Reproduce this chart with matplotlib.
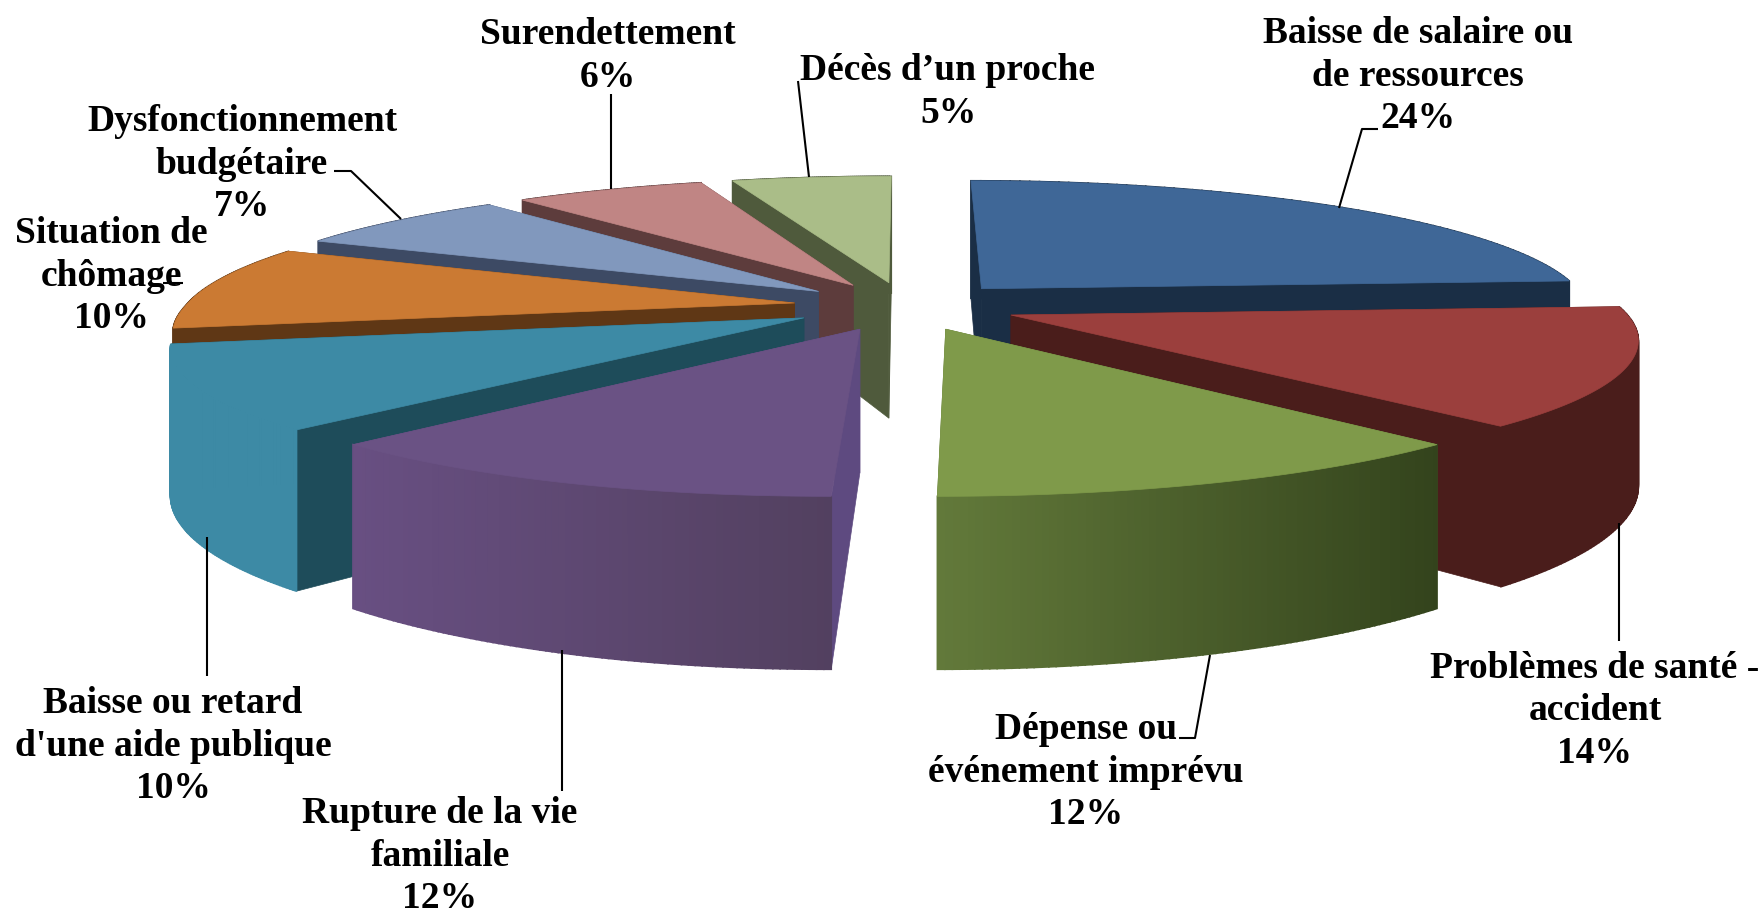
import numpy as np
import matplotlib
matplotlib.use("Agg")
import matplotlib.pyplot as plt
from matplotlib.colors import to_rgb
from matplotlib.patches import Polygon

# slices, clockwise from 12 o'clock
names = ["Baisse de salaire ou\nde ressources", "Problèmes de santé -\naccident",
         "Dépense ou\névénement imprévu", "Rupture de la vie\nfamiliale",
         "Baisse ou retard\nd'une aide publique", "Situation de\nchômage",
         "Dysfonctionnement\nbudgétaire", "Surendettement", "Décès d’un proche"]
values = [24, 14, 12, 12, 10, 10, 7, 6, 5]

# top face, cut face, wall at left of the screen, wall at right of the screen
top_colors = ["#3F6797", "#9B3F3D", "#7F9A4A", "#6A5284", "#3D8AA5", "#CB7A33", "#8198BD", "#C08584", "#AABD88"]
cut_colors = ["#1A2E45", "#4A1D1B", "#5F7537", "#5E4A80", "#1E4C5A", "#5F3715", "#3D4A64", "#5D3C3C", "#4F5A3C"]
wall_left = ["#1A2E45", "#4A1D1B", "#62793A", "#684F82", "#3D8AA5", "#5F3715", "#3D4A64", "#5D3C3C", "#4F5A3C"]
wall_right = ["#1A2E45", "#4A1D1B", "#33431C", "#52405F", "#3D8AA5", "#5F3715", "#3D4A64", "#5D3C3C", "#4F5A3C"]

# label centres and leader lines, in pixels
label_pos = [(1418, 76), (1595, 711), (1086, 772), (440, 856), (173, 746), (111, 276), (242, 164), (608, 56), (948, 92)]
leaders = [[(1339, 208), (1362, 129), (1378, 129)],
           [(1619, 523), (1619, 641)],
           [(1210, 655), (1195, 738), (1179, 738)],
           [(562, 650), (562, 791)],
           [(207, 537), (207, 676)],
           [(183, 283), (163, 283)],
           [(401, 219), (351, 171), (334, 171)],
           [(611, 189), (611, 94)],
           [(809, 177), (798, 81)]]

# projection of the pie plane onto the image
CX, CY = 906, 306
SCALE_X, SCALE_Y = 609, 131
PERSP = 0.165
HEIGHT = 139.5
EXPLODE = 0.185


def project(u, v):
	s = 1 / (1 + PERSP * v)
	# camera sits a bit right of the centre, the near edge drifts left
	drift = np.minimum(v, 0) * (12 - 5 * u + 8 * np.exp(-((u + 0.15) / 0.35) ** 2))
	return CX + SCALE_X * u * s + drift, CY - SCALE_Y * v * s, HEIGHT * s


def slicePoints(start, end):
	# apex and outer arc of an exploded slice, angles in radians clockwise from the top
	mid = (start + end) / 2
	du, dv = EXPLODE * np.sin(mid), EXPLODE * np.cos(mid)
	theta = np.linspace(start, end, 80)
	x, y, h = project(du + np.sin(theta), dv + np.cos(theta))
	ax_, ay_, ah_ = project(du, dv)
	return (ax_, ay_, ah_), x, y, h


fig = plt.figure(figsize=(17.64, 9.14), dpi=100)
ax = fig.add_axes([0, 0, 1, 1])
ax.set_xlim(0, 1764)
ax.set_ylim(914, 0)
ax.axis("off")

edges = np.cumsum([0] + values) / sum(values) * 2 * np.pi
mids = (edges[:-1] + edges[1:]) / 2

# far slices first so the near ones cover them
for i in np.argsort(-np.cos(mids), kind="stable"):
	(ax_, ay_, ah_), x, y, h = slicePoints(edges[i], edges[i + 1])

	# the two cut faces
	for j in (0, -1):
		quad = [(ax_, ay_), (x[j], y[j]), (x[j], y[j] + h[j]), (ax_, ay_ + ah_)]
		ax.add_patch(Polygon(quad, closed=True, fc=cut_colors[i], ec=cut_colors[i], lw=0.5, zorder=1))

	# outer wall, shaded from screen left to screen right
	left, right = np.array(to_rgb(wall_left[i])), np.array(to_rgb(wall_right[i]))
	for j in range(len(x) - 1):
		t = (min(x[j], x[j + 1]) - x.min()) / max(x.max() - x.min(), 1)
		col = left + (right - left) * t
		quad = [(x[j], y[j]), (x[j + 1], y[j + 1]), (x[j + 1], y[j + 1] + h[j + 1]), (x[j], y[j] + h[j])]
		ax.add_patch(Polygon(quad, closed=True, fc=col, ec=col, lw=1.2, zorder=1))

	ax.add_patch(Polygon(np.vstack([[ax_, ay_], np.column_stack([x, y])]), closed=True,
		fc=top_colors[i], ec=top_colors[i], lw=0.5, zorder=1))

for line in leaders:
	xs, ys = zip(*line)
	ax.plot(xs, ys, color="black", lw=1.5, zorder=3, solid_capstyle="butt")

for name, val, (lx, ly) in zip(names, values, label_pos):
	ax.text(lx, ly, f"{name}\n{val}%", ha="center", va="center", family="Liberation Serif",
		fontweight="bold", fontsize=27, linespacing=1.28, color="black", zorder=4)

fig.savefig("out.png", dpi=100)
